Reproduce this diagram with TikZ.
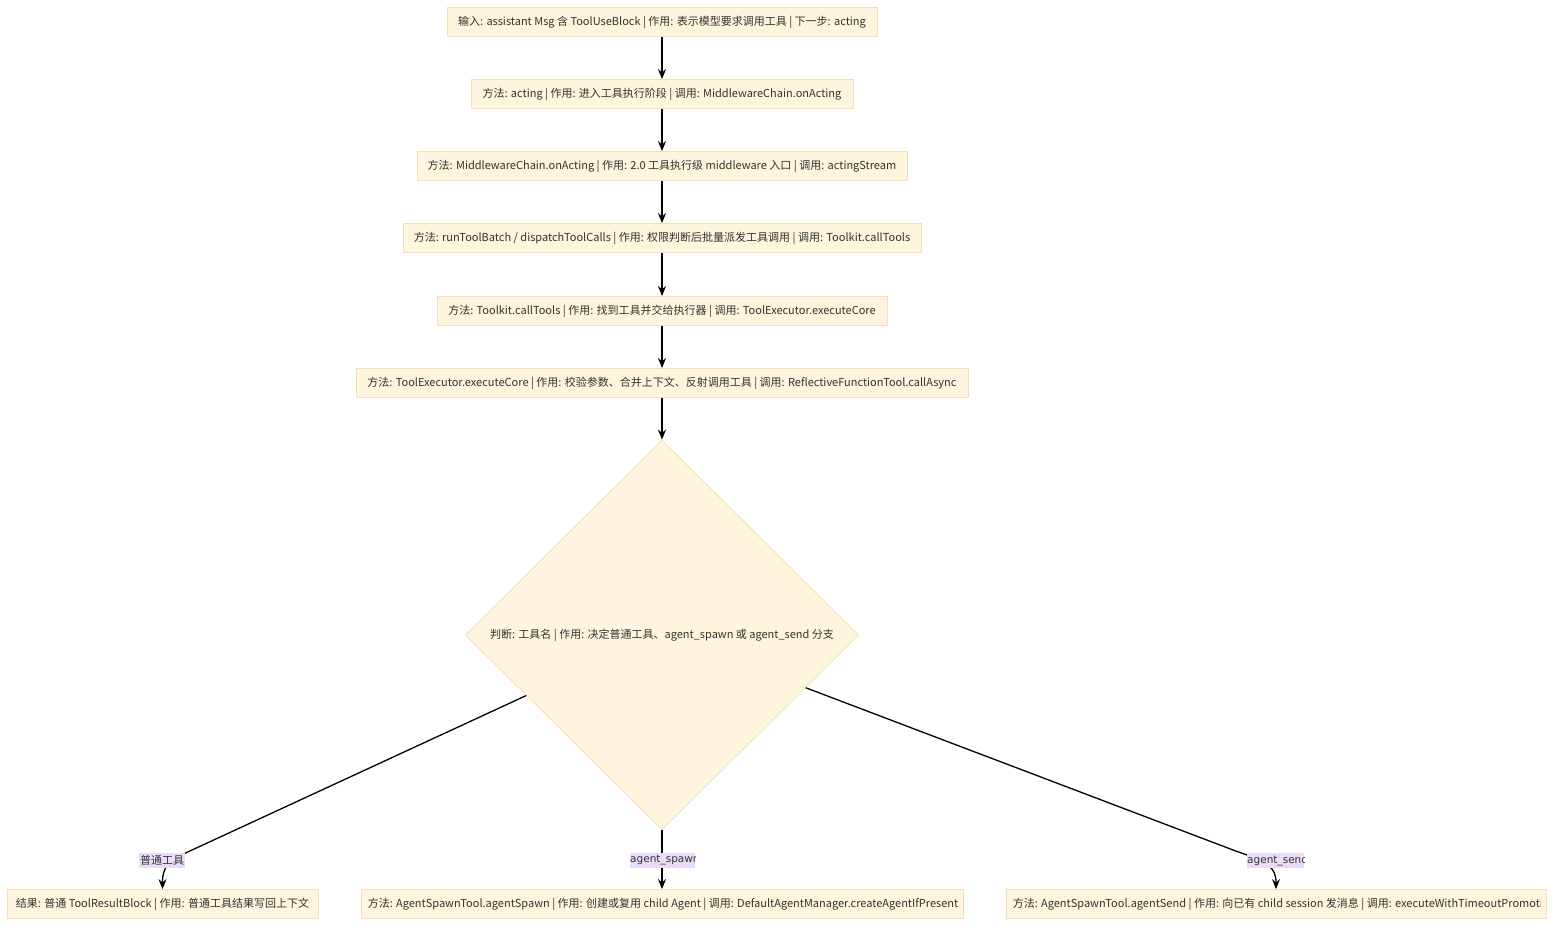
\documentclass[tikz,border=0pt]{standalone}
\usepackage{fontspec}
\setmainfont{Noto Sans CJK SC}
\newfontfamily\lblfont{DejaVu Sans}
\usetikzlibrary{shapes.geometric,arrows.meta,calc}
\definecolor{boxfill}{HTML}{FFF4DD}
\definecolor{boxline}{HTML}{F1E0BA}
\definecolor{lblfill}{HTML}{EADCF8}
\definecolor{txt}{HTML}{333333}
\tikzset{
  box/.style={draw=boxline, fill=boxfill, line width=0.8pt, minimum height=29pt,
    inner xsep=0pt, inner ysep=0pt, text=txt, font=\fontsize{11}{13}\selectfont},
  plaintext/.style={inner sep=0pt, text=txt, font=\fontsize{11}{13}\selectfont},
  decision/.style={diamond, aspect=1, draw=boxline, fill=boxfill, line width=0.8pt,
    minimum width=393pt, minimum height=390pt, inner sep=0pt, text=txt,
    font=\fontsize{11}{13}\selectfont},
  lbl/.style={fill=lblfill, inner sep=0pt, minimum height=15pt, text=txt,
    font=\lblfont\fontsize{10.5}{12}\selectfont, align=left},
  lblcjk/.style={fill=lblfill, inner sep=1pt, minimum height=15pt, text=txt,
    font=\fontsize{11}{13}\selectfont},
  arr/.style={line width=1.5pt, -{Stealth[length=10pt,width=8pt]}},
  arrc/.style={line width=1.3pt, -{Stealth[length=10pt,width=8pt]}}
}
\begin{document}
\begin{tikzpicture}[x=1pt,y=-1pt]
\useasboundingbox (0,0) rectangle (1568,936);
\fill[white] (0,0) rectangle (1568,936);

\node[box, minimum width=430pt] (n1) at (662,22) {输入: assistant Msg 含 ToolUseBlock | 作用: 表示模型要求调用工具 | 下一步: acting};
\node[box, minimum width=382pt] (n2) at (662,94) {方法: acting | 作用: 进入工具执行阶段 | 调用: MiddlewareChain.onActing};
\node[box, minimum width=490pt] (n3) at (662,166) {方法: MiddlewareChain.onActing | 作用: 2.0 工具执行级 middleware 入口 | 调用: actingStream};
\node[box, minimum width=518pt] (n4) at (662,238) {方法: runToolBatch / dispatchToolCalls | 作用: 权限判断后批量派发工具调用 | 调用: Toolkit.callTools};
\node[box, minimum width=450pt] (n5) at (662,311) {方法: Toolkit.callTools | 作用: 找到工具并交给执行器 | 调用: ToolExecutor.executeCore};
\node[box, minimum width=612pt] (n6) at (662,383) {方法: ToolExecutor.executeCore | 作用: 校验参数、合并上下文、反射调用工具 | 调用: ReflectiveFunctionTool.callAsync};

\node[decision] (d) at (662,635) {判断: 工具名 | 作用: 决定普通工具、agent\_spawn 或 agent\_send 分支};

\node[box, minimum width=311pt] (r1) at (162.5,904) {结果: 普通 ToolResultBlock | 作用: 普通工具结果写回上下文};
\node[box, minimum width=602pt] (r2) at (662,904) {};
\node[box, minimum width=540pt] (r3) at (1276,904) {};
\begin{scope}
  \clip ($(r2.south west)+(0,-1)$) rectangle ($(r2.north east)+(-6,1)$);
  \node[plaintext, anchor=west] (r2t) at ($(r2.west)+(7,0)$) {\mbox{方法: AgentSpawnTool.agentSpawn | 作用: 创建或复用 child Agent | 调用: DefaultAgentManager.createAgentIfPresent}};
\end{scope}
\begin{scope}
  \clip ($(r3.south west)+(0,-1)$) rectangle ($(r3.north east)+(-6,1)$);
  \node[plaintext, anchor=west] (r3t) at ($(r3.west)+(7,0)$) {\mbox{方法: AgentSpawnTool.agentSend | 作用: 向已有 child session 发消息 | 调用: executeWithTimeoutPromotion}};
\end{scope}

\draw[arr] (n1) -- (n2);
\draw[arr] (n2) -- (n3);
\draw[arr] (n3) -- (n4);
\draw[arr] (n4) -- (n5);
\draw[arr] (n5) -- (n6);
\draw[arr] (n6) -- (d);

\coordinate (dl) at ($(d.west)!0.31!(d.south)$);
\coordinate (dr) at ($(d.east)!0.27!(d.south)$);
\draw[arrc] (dl) -- ($(r1.north)+(25,-37)$) .. controls ($(r1.north)+(5,-27)$) and ($(r1.north)+(0,-22)$) .. (r1.north);
\draw[arr] (d.south) -- (r2.north);
\draw[arrc] (dr) -- ($(r3.north)+(-40,-38)$) .. controls ($(r3.north)+(-8,-27)$) and ($(r3.north)+(0,-22)$) .. (r3.north);

\node[lblcjk] (l1) at (162,860.5) {普通工具};
\begin{scope}
  \clip (630,853) rectangle (695,868);
  \node[lbl, text width=65pt, anchor=west] (l2) at (630,860.5) {\mbox{agent\_spawn}};
\end{scope}
\begin{scope}
  \clip (1247,853) rectangle (1304,868);
  \node[lbl, text width=57pt, anchor=west] (l3) at (1247,860.5) {\mbox{agent\_send}};
\end{scope}
\end{tikzpicture}
\end{document}
